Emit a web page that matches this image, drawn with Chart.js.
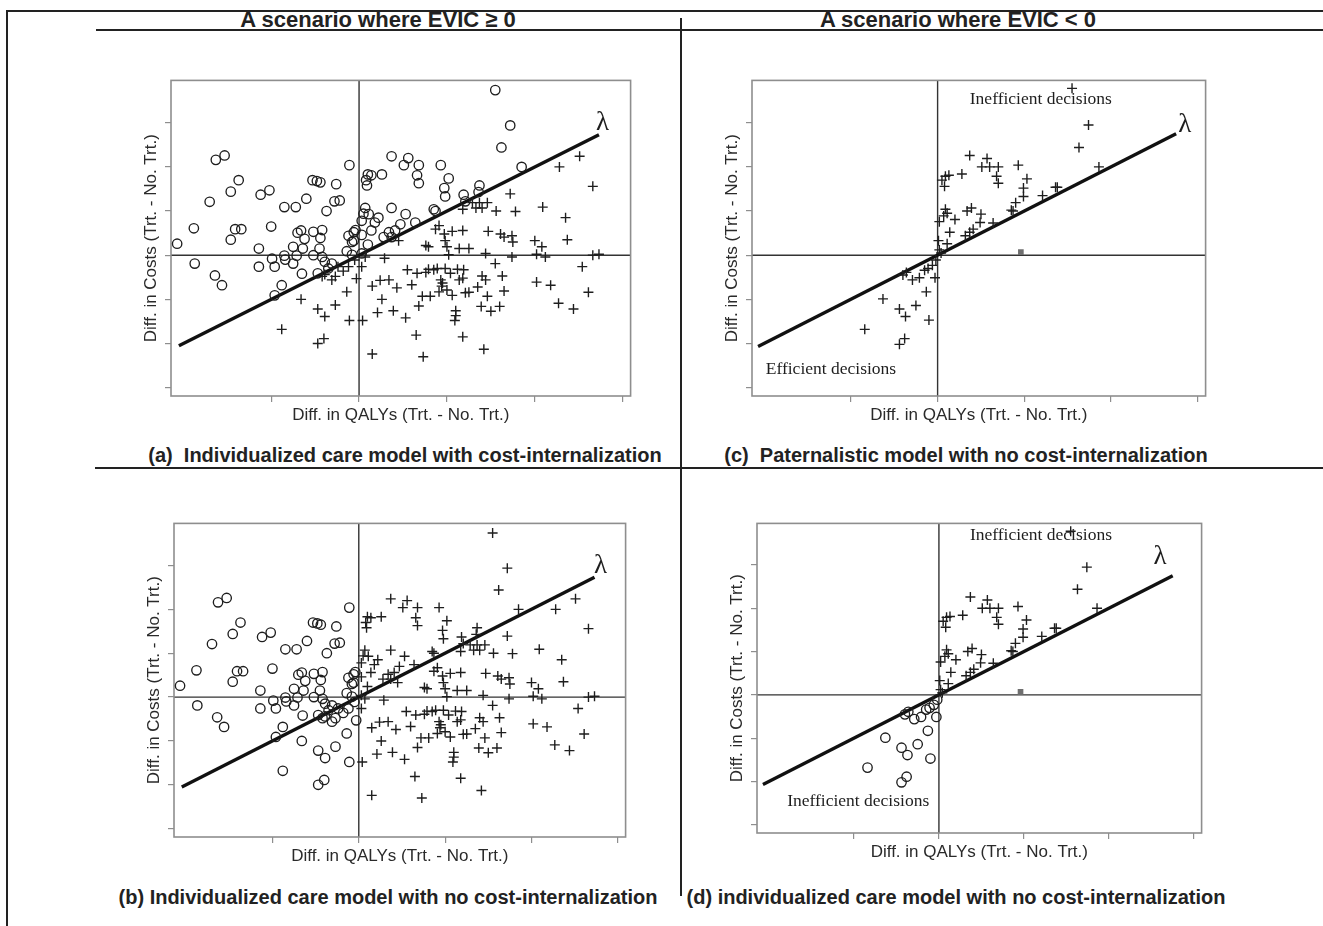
<!DOCTYPE html>
<html>
<head>
<meta charset="utf-8">
<script src="https://cdn.jsdelivr.net/npm/chart.js@4.4.1/dist/chart.umd.min.js"></script>
<style>
  body { margin: 0; background: #fff; width: 1323px; height: 926px; position: relative; overflow: hidden;
         font-family: "Liberation Sans", Arial, sans-serif; color: #222; }
  canvas { position: absolute; }
  .rule { position: absolute; background: #222; }
  .txt { position: absolute; white-space: nowrap; transform: translate(-50%, -50%); }
  .head { font-weight: bold; font-size: 22px; }
  .cap { font-weight: bold; font-size: 20px; }
</style>
</head>
<body>
<div class="rule" style="left:6px;top:10px;width:1317px;height:1.5px"></div>
<div class="rule" style="left:6px;top:10px;width:1.5px;height:916px"></div>
<div class="rule" style="left:96px;top:29px;width:1227px;height:2px"></div>
<div class="rule" style="left:680px;top:18px;width:1.5px;height:878px"></div>
<div class="rule" style="left:95px;top:467px;width:1228px;height:2px"></div>

<div class="txt head" style="left:378px;top:20px">A scenario where EVIC &ge; 0</div>
<div class="txt head" style="left:958px;top:20px">A scenario where EVIC &lt; 0</div>
<div class="txt cap" style="left:405px;top:455px">(a)&nbsp; Individualized care model with cost-internalization</div>
<div class="txt cap" style="left:966px;top:455px">(c)&nbsp; Paternalistic model with no cost-internalization</div>
<div class="txt cap" style="left:388px;top:897px">(b) Individualized care model with no cost-internalization</div>
<div class="txt cap" style="left:956px;top:897px">(d) individualized care model with no cost-internalization</div>

<script>
// axis ticks (no labels are printed, only the marks)
const xTicks = [-1, 0, 1, 2, 3];
const yTicks = [-3, -2, -1, 0, 1, 2, 3];

// left column (EVIC >= 0): [QALY diff, cost diff]
// points with negative QALY difference
const leftNegative = [
  [-2.07,0.26],[-1.88,0.61],[-1.87,-0.19],[-1.70,1.21],[-1.63,2.16],[-1.53,2.26],[-1.64,-0.46],[-1.56,-0.68],
  [-1.46,1.44],[-1.37,1.70],[-1.46,0.35],[-1.41,0.59],[-1.34,0.59],[-1.14,0.15],[-1.14,-0.26],[-1.12,1.37],
  [-1.02,1.47],[-1.00,0.65],[-0.99,-0.08],[-0.96,-0.26],[-0.96,-0.91],[-0.88,-0.68],[-0.85,1.09],[-0.85,-0.01],
  [-0.84,-0.10],[-0.75,0.19],[-0.75,-0.19],[-0.72,1.09],[-0.71,-0.01],[-0.70,0.51],[-0.66,0.56],[-0.65,-0.42],
  [-0.64,0.15],[-0.62,0.37],[-0.60,1.28],[-0.53,1.70],[-0.48,1.68],[-0.44,1.65],[-0.52,0.53],[-0.52,0.00],
  [-0.45,0.15],[-0.44,0.39],[-0.42,0.57],[-0.42,-0.04],[-0.39,-0.15],[-0.37,1.00],[-0.28,1.22],[-0.22,1.24],
  [-0.26,1.61],[-0.11,2.04],[-0.14,0.09],[-0.12,0.44],[-0.06,0.52],[-0.04,0.57],[-0.08,0.30],[-0.06,0.33],
  [-0.08,0.01],[-0.05,-0.11],[-0.12,-0.26],[-0.18,-0.36],[-0.27,-0.48],[-0.35,-0.30],[-0.31,-0.56],[-0.39,-0.44],
  [-0.42,-0.48],[-0.47,-0.41],[-0.31,-0.19],[-0.24,-0.26],[-0.14,-0.83],[-0.03,-0.53],[-0.66,-1.00],[-0.88,-1.68],
  [-0.47,-1.22],[-0.39,-1.39],[-0.27,-1.13],[-0.11,-1.48],[-0.47,-2.00],[-0.40,-1.89]
];
// points with positive QALY difference
const leftPositive = [
  [0.10,1.83],[0.14,1.81],[0.26,1.83],[0.08,1.70],[0.09,1.58],[0.07,1.07],[0.05,0.94],[0.11,0.93],
  [0.22,0.85],[0.18,0.74],[0.14,0.56],[0.28,0.41],[0.34,0.52],[0.03,0.04],[0.07,-0.04],[0.15,-0.70],
  [0.24,-0.57],[0.34,-0.56],[0.26,-1.00],[0.21,-1.30],[0.15,-2.24],[0.04,-1.48],[0.29,-0.07],[0.03,-0.26],
  [0.03,0.46],[0.10,0.24],[0.03,0.78],
  [1.55,3.74],[1.72,2.94],[1.62,2.44],[2.51,2.24],[2.28,2.00],[1.85,2.00],[2.66,1.56],[1.72,1.39],
  [2.09,1.09],[2.35,0.85],[2.37,0.35],[1.78,0.99],[1.56,1.00],[1.37,1.58],[1.36,1.43],[1.19,1.37],
  [1.21,1.22],[1.29,1.19],[1.37,1.19],[1.40,1.07],[1.18,1.04],[1.33,1.07],[1.46,1.19],[0.93,2.04],
  [1.02,1.74],[0.97,1.52],[0.98,1.33],[0.68,2.04],[0.56,2.20],[0.51,2.04],[0.66,1.81],[0.68,1.63],
  [0.37,2.24],[0.53,0.93],[0.37,1.07],[0.85,1.04],[0.87,1.00],[0.64,0.74],[0.41,0.56],[0.47,0.70],
  [1.47,0.54],[1.61,0.48],[1.65,0.41],[1.74,0.44],[1.75,0.30],[2.00,0.33],[2.08,0.19],[2.02,0.02],
  [2.12,-0.04],[1.74,-0.04],[1.44,0.04],[1.25,0.15],[1.14,0.15],[1.02,0.01],[1.00,0.19],[0.98,0.33],
  [0.97,0.48],[0.91,0.67],[0.87,0.59],[1.18,0.56],[1.06,0.54],[0.76,0.22],[0.79,0.19],[0.37,0.41],
  [0.45,0.33],[2.66,0.00],[2.73,0.02],[2.54,-0.26],[2.61,-0.84],[2.27,-1.09],[2.44,-1.22],[2.02,-0.61],
  [2.18,-0.68],[1.63,-0.47],[1.55,-0.19],[1.65,-0.81],[1.40,-0.47],[1.44,-0.56],[1.46,-0.93],[1.39,-1.16],
  [1.50,-1.27],[1.60,-1.16],[1.19,-0.33],[1.18,-0.52],[1.12,-0.32],[0.98,-0.30],[0.89,-0.30],[0.79,-0.32],
  [0.76,-0.39],[0.66,-0.41],[0.55,-0.33],[0.60,-0.67],[0.43,-0.74],[0.72,-0.93],[0.81,-0.93],[0.68,-1.15],
  [0.93,-0.56],[0.94,-0.70],[0.91,-0.83],[1.00,-0.79],[1.06,-0.91],[1.21,-0.85],[1.25,-0.84],[1.35,-0.72],
  [1.14,-0.56],[1.10,-1.26],[1.10,-1.37],[1.09,-1.48],[0.39,-1.26],[0.53,-1.42],[0.65,-1.81],[1.18,-1.85],
  [1.42,-2.13],[0.73,-2.30],[0.85,-0.33],[0.95,-0.63],[1.04,-0.41]
];

// right column (EVIC < 0)
const rightNegative = [
  [-0.36,-0.39],[-0.40,-0.45],[-0.29,-0.56],[-0.21,-0.51],[-0.15,-0.34],[-0.11,-0.30],[-0.06,-0.23],
  [-0.02,-0.11],[-0.03,-0.51],[-0.13,-0.83],[-0.63,-0.99],[-0.44,-1.22],[-0.25,-1.14],[-0.37,-1.39],
  [-0.10,-1.47],[-0.84,-1.68],[-0.44,-2.02],[-0.38,-1.89]
];
const rightPositive = [
  [0.37,2.26],[0.05,1.70],[0.09,1.79],[0.13,1.81],[0.28,1.84],[0.08,1.56],[0.09,1.04],[0.07,0.89],
  [0.02,0.76],[0.11,0.95],[0.20,0.81],[0.14,0.52],[0.34,1.00],[0.39,1.07],[0.01,0.33],[0.11,0.26],
  [0.32,0.44],[0.37,0.52],[0.02,0.12],[0.04,0.05],
  [1.55,3.78],[1.74,2.95],[1.63,2.44],[1.86,2.00],[0.57,2.19],[0.51,2.00],[0.60,2.00],[0.70,2.00],
  [0.68,1.79],[0.70,1.63],[0.93,2.04],[1.03,1.73],[0.99,1.52],[0.99,1.33],[1.21,1.35],[1.36,1.54],
  [1.38,1.54],[0.90,1.19],[0.87,1.00],[0.85,1.02],[0.50,0.93],[0.49,0.74],[0.41,0.59],[0.64,0.73]
];
const rightSquare = [[0.96, 0.07]];

// willingness-to-pay line (lambda) end points
const lambdaLeft = [[-2.05, -2.05], [2.73, 2.73]];
const lambdaRight = [[-2.07, -2.07], [2.75, 2.75]];

const xTitle = 'Diff. in QALYs (Trt. - No. Trt.)';
const yTitle = 'Diff. in Costs (Trt. - No. Trt.)';

const toXY = arr => arr.map(p => ({x: p[0], y: p[1]}));
const allLeft = leftNegative.concat(leftPositive);
const allRight = rightNegative.concat(rightPositive);

const lamSize = 27, noteSize = 17.5;
const panels = [
  { box: [171, 74, 637, 396], circles: allLeft.filter(p => p[1] > p[0]), crosses: allLeft.filter(p => p[1] <= p[0]),
    squares: [], lambda: lambdaLeft,
    notes: [{text: 'λ', x: 2.77, y: 3.0, size: lamSize}] },
  { box: [752, 74, 1212, 396], circles: [], crosses: allRight, squares: rightSquare, lambda: lambdaRight,
    notes: [{text: 'λ', x: 2.85, y: 2.95, size: lamSize},
            {text: 'Inefficient decisions', x: 1.19, y: 3.52, size: noteSize},
            {text: 'Efficient decisions', x: -1.23, y: -2.58, size: noteSize}] },
  { box: [174, 517, 632, 837], circles: leftNegative, crosses: leftPositive, squares: [], lambda: lambdaLeft,
    notes: [{text: 'λ', x: 2.8, y: 3.0, size: lamSize}] },
  { box: [757, 517, 1208, 833], circles: rightNegative, crosses: rightPositive, squares: rightSquare, lambda: lambdaRight,
    notes: [{text: 'λ', x: 2.6, y: 3.18, size: lamSize},
            {text: 'Inefficient decisions', x: 1.20, y: 3.68, size: noteSize},
            {text: 'Inefficient decisions', x: -0.95, y: -2.47, size: noteSize}] }
];

// frame, zero lines and text notes
const panelDecor = {
  id: 'panelDecor',
  beforeDatasetsDraw(chart) {
    const {ctx, chartArea: a, scales: {x, y}} = chart;
    ctx.save();
    ctx.strokeStyle = '#333';
    ctx.lineWidth = 1.4;
    const x0 = x.getPixelForValue(0), y0 = y.getPixelForValue(0);
    ctx.beginPath();
    ctx.moveTo(x0, a.top); ctx.lineTo(x0, a.bottom);
    ctx.moveTo(a.left, y0); ctx.lineTo(a.right, y0);
    ctx.stroke();
    ctx.strokeStyle = '#8e8e8e';
    ctx.lineWidth = 1.6;
    ctx.strokeRect(a.left, a.top, a.width, a.height);
    ctx.restore();
  },
  afterDatasetsDraw(chart, args, opts) {
    const {ctx, scales: {x, y}} = chart;
    ctx.save();
    ctx.fillStyle = '#1e1e1e';
    ctx.textAlign = 'center';
    ctx.textBaseline = 'middle';
    (opts.notes || []).forEach(n => {
      ctx.font = n.size + 'px "Liberation Serif", "Times New Roman", serif';
      ctx.fillText(n.text, x.getPixelForValue(n.x), y.getPixelForValue(n.y));
    });
    ctx.restore();
  }
};

const axisW = 31;

panels.forEach(p => {
  const [l, t, r, b] = p.box;
  const cv = document.createElement('canvas');
  cv.width = (r - l) + axisW;
  cv.height = (b - t) + axisW;
  cv.style.left = (l - axisW) + 'px';
  cv.style.top = t + 'px';
  document.body.appendChild(cv);

  const titleFont = {family: '"Liberation Sans", Arial, sans-serif', size: 17};

  new Chart(cv, {
    type: 'scatter',
    data: {
      datasets: [
        { data: toXY(p.circles), pointStyle: 'circle', pointRadius: 4.7, borderWidth: 1.35,
          borderColor: '#1e1e1e', backgroundColor: 'rgba(0,0,0,0)' },
        { data: toXY(p.crosses), pointStyle: 'cross', pointRadius: 5, borderWidth: 1.4,
          borderColor: '#1e1e1e', backgroundColor: '#1e1e1e' },
        { data: toXY(p.squares), pointStyle: 'rect', pointRadius: 4, borderWidth: 0,
          borderColor: '#6f6f6f', backgroundColor: '#6f6f6f' },
        { data: toXY(p.lambda), showLine: true, pointRadius: 0, borderWidth: 3.4,
          borderColor: '#111', backgroundColor: '#111' }
      ]
    },
    options: {
      responsive: false,
      animation: false,
      events: [],
      layout: { padding: 0 },
      plugins: { legend: { display: false }, tooltip: { enabled: false }, panelDecor: { notes: p.notes } },
      scales: {
        x: {
          type: 'linear', min: -2.14, max: 3.09,
          afterBuildTicks: s => { s.ticks = xTicks.map(v => ({value: v})); },
          afterFit: s => { s.height = axisW; },
          grid: { drawOnChartArea: false, drawTicks: true, tickLength: 6, color: '#8e8e8e', lineWidth: 1.2 },
          border: { display: false },
          ticks: { display: false },
          title: { display: true, text: xTitle, font: titleFont, color: '#2a2a2a', padding: {top: 0, bottom: 1} }
        },
        y: {
          type: 'linear', min: -3.19, max: 3.96,
          afterBuildTicks: s => { s.ticks = yTicks.map(v => ({value: v})); },
          afterFit: s => { s.width = axisW; },
          grid: { drawOnChartArea: false, drawTicks: true, tickLength: 6, color: '#8e8e8e', lineWidth: 1.2 },
          border: { display: false },
          ticks: { display: false },
          title: { display: true, text: yTitle, font: titleFont, color: '#2a2a2a', padding: {top: 1, bottom: 0} }
        }
      }
    },
    plugins: [panelDecor]
  });
});
</script>
</body>
</html>
